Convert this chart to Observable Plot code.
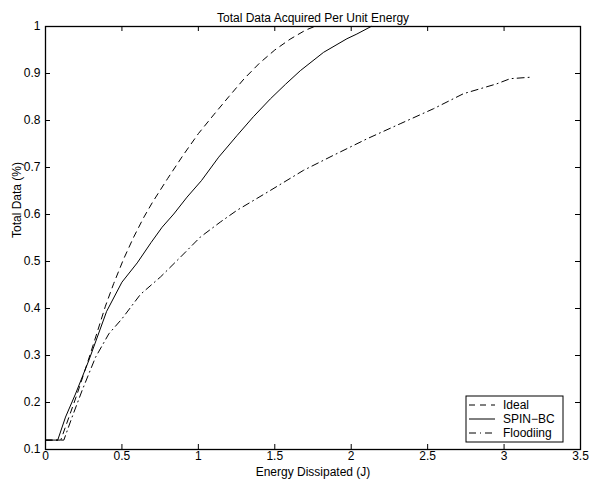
<!DOCTYPE html>
<html><head><meta charset="utf-8">
<script src="https://cdn.jsdelivr.net/npm/d3@7"></script>
<script src="https://cdn.jsdelivr.net/npm/@observablehq/plot@0.6"></script>
<style>body{margin:0;background:#fff}</style>
</head><body><div id="chart"></div>
<script>
const title = "Total Data Acquired Per Unit Energy";
const xLabel = "Energy Dissipated (J)";
const yLabel = "Total Data (%)";
const xTicks = [0, 0.5, 1, 1.5, 2, 2.5, 3, 3.5];
const yTicks = [0.1, 0.2, 0.3, 0.4, 0.5, 0.6, 0.7, 0.8, 0.9, 1];
const seriesNames = ["Ideal", "SPIN\u2212BC", "Floodiing"];

const idealX = [0, 0.1, 0.207, 0.294, 0.392, 0.446, 0.512, 0.577, 0.643, 0.7, 0.8, 0.9, 1.0, 1.1, 1.2, 1.3, 1.4, 1.5, 1.6, 1.7, 1.76];
const idealY = [0.12, 0.12, 0.218, 0.304, 0.405, 0.453, 0.506, 0.552, 0.594, 0.626, 0.677, 0.726, 0.772, 0.812, 0.851, 0.889, 0.922, 0.95, 0.973, 0.992, 1.0];

const spinX = [0, 0.08, 0.131, 0.196, 0.283, 0.4, 0.5, 0.6, 0.69, 0.763, 0.839, 0.926, 1.02, 1.133, 1.253, 1.36, 1.471, 1.57, 1.667, 1.819, 1.972, 2.037, 2.13];
const spinY = [0.12, 0.12, 0.169, 0.218, 0.289, 0.394, 0.456, 0.497, 0.54, 0.573, 0.601, 0.637, 0.672, 0.722, 0.768, 0.808, 0.846, 0.877, 0.906, 0.945, 0.974, 0.984, 1.0];

const floodX = [0, 0.12, 0.174, 0.24, 0.327, 0.414, 0.5, 0.621, 0.752, 0.882, 1.013, 1.144, 1.253, 1.47, 1.688, 1.884, 2.103, 2.32, 2.538, 2.734, 2.952, 3.04, 3.17];
const floodY = [0.12, 0.12, 0.169, 0.226, 0.296, 0.346, 0.378, 0.43, 0.467, 0.509, 0.552, 0.584, 0.609, 0.651, 0.694, 0.726, 0.761, 0.793, 0.825, 0.857, 0.878, 0.889, 0.892];

const styles = ["6,5", null, "7,4,1,4"];
const seriesX = [idealX, spinX, floodX];
const seriesY = [idealY, spinY, floodY];
const rows = seriesNames.flatMap((name, i) => seriesX[i].map((x, j) => ({name, x, y: seriesY[i][j]})));

const W = 589, H = 483, mL = 45, mR = 9, mT = 26, mB = 34;
const xDom = [0, 3.5], yDom = [0.1, 1];
const tickPx = 5;
const tY = tickPx * (yDom[1] - yDom[0]) / (H - mT - mB);
const tX = tickPx * (xDom[1] - xDom[0]) / (W - mL - mR);
const font = "Liberation Sans, Arial, Helvetica, sans-serif";
const fs = 12;

const plot = Plot.plot({
  width: W, height: H,
  marginLeft: mL, marginRight: mR, marginTop: mT, marginBottom: mB,
  style: {fontFamily: font, fontSize: fs + "px", background: "white", color: "black"},
  x: {domain: xDom},
  y: {domain: yDom},
  marks: [
    Plot.axisX(xTicks, {tickSize: 0, tickPadding: 2, label: null, fontSize: fs, tickFormat: d => String(d)}),
    Plot.axisY(yTicks, {tickSize: 0, tickPadding: 5, label: null, fontSize: fs, tickFormat: d => String(d)}),
    Plot.ruleX(xTicks, {x: d => d, y1: yDom[0], y2: yDom[0] + tY, stroke: "black"}),
    Plot.ruleX(xTicks, {x: d => d, y1: yDom[1], y2: yDom[1] - tY, stroke: "black"}),
    Plot.ruleY(yTicks, {y: d => d, x1: xDom[0], x2: xDom[0] + tX, stroke: "black"}),
    Plot.ruleY(yTicks, {y: d => d, x1: xDom[1], x2: xDom[1] - tX, stroke: "black"}),
    ...seriesNames.map((name, i) => Plot.line(rows.filter(r => r.name === name), {
      x: "x", y: "y", stroke: "black", strokeWidth: 1, strokeDasharray: styles[i]
    })),
    Plot.frame({stroke: "black", strokeWidth: 1.3}),
    Plot.text([title], {frameAnchor: "top", dy: -13, fontSize: fs}),
    Plot.text([xLabel], {frameAnchor: "bottom", dy: 26, fontSize: fs}),
    Plot.text([yLabel], {frameAnchor: "left", dx: -28, rotate: -90, fontSize: fs})
  ]
});
document.getElementById("chart").appendChild(plot);

// legend box (lower right, inside axes)
const svg = d3.select(plot);
const lg = svg.append("g").attr("font-family", font).attr("font-size", fs).attr("text-anchor", "start");
const lx = 466, ly = 396, lw = 97, lh = 46;
lg.append("rect").attr("x", lx).attr("y", ly).attr("width", lw).attr("height", lh)
  .attr("fill", "white").attr("stroke", "black").attr("stroke-width", 1);
seriesNames.forEach((name, i) => {
  const cy = ly + 9 + i * 14;
  lg.append("line").attr("x1", lx + 3).attr("x2", lx + 29).attr("y1", cy).attr("y2", cy)
    .attr("stroke", "black").attr("stroke-width", 1).attr("stroke-dasharray", styles[i]);
  lg.append("text").attr("x", lx + 37).attr("y", cy).attr("dy", "0.35em")
    .attr("text-anchor", "start").attr("fill", "black").text(name);
});
</script>
</body></html>
